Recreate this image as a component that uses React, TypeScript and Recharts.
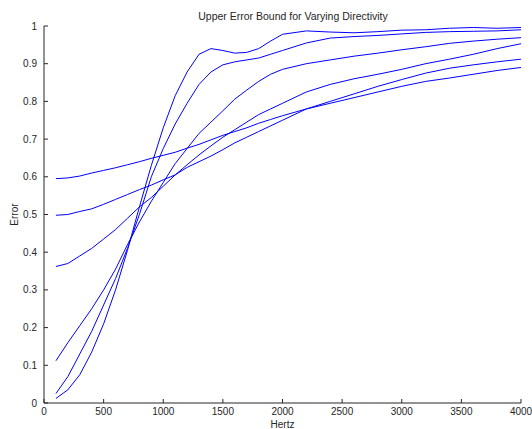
import { LineChart, Line, XAxis, YAxis } from 'recharts'

// frequency samples (Hz)
const hertz = [
    100, 200, 300, 400, 500, 600, 700, 800, 900, 1000,
    1100, 1200, 1300, 1400, 1500, 1600, 1700, 1800, 1900, 2000,
    2200, 2400, 2600, 2800, 3000, 3200, 3400, 3600, 3800, 4000,
]

// one array per directivity curve
const curveA = [
    0.595, 0.597, 0.602, 0.61, 0.617, 0.624, 0.632, 0.64, 0.649, 0.657,
    0.665, 0.676, 0.686, 0.698, 0.71, 0.72, 0.73, 0.742, 0.752, 0.762,
    0.78, 0.795, 0.81, 0.825, 0.84, 0.853, 0.862, 0.872, 0.882, 0.89,
]
const curveB = [
    0.498, 0.5, 0.508, 0.515, 0.527, 0.54, 0.553, 0.566, 0.578, 0.592,
    0.605, 0.625, 0.64, 0.655, 0.672, 0.69, 0.705, 0.72, 0.735, 0.75,
    0.78, 0.8, 0.82, 0.84, 0.858, 0.875, 0.888, 0.897, 0.905, 0.912,
]
const curveC = [
    0.362, 0.37, 0.39, 0.41, 0.435, 0.46, 0.49, 0.52, 0.545, 0.575,
    0.605, 0.632, 0.658, 0.682, 0.705, 0.725, 0.745, 0.765, 0.78, 0.795,
    0.825, 0.845, 0.86, 0.872, 0.885, 0.9, 0.912, 0.925, 0.94, 0.953,
]
const curveD = [
    0.112, 0.16, 0.205, 0.25, 0.3, 0.355, 0.42, 0.48, 0.535, 0.585,
    0.635, 0.675, 0.715, 0.745, 0.775, 0.806, 0.83, 0.853, 0.872, 0.885,
    0.9, 0.91, 0.92, 0.928, 0.937, 0.945, 0.954, 0.96, 0.965, 0.969,
]
const curveE = [
    0.025, 0.07, 0.13, 0.19, 0.26, 0.33, 0.41, 0.5, 0.6, 0.675,
    0.74, 0.795, 0.845, 0.878, 0.897, 0.905, 0.91, 0.915, 0.925, 0.935,
    0.955, 0.968, 0.972, 0.975, 0.979, 0.983, 0.985, 0.986, 0.987, 0.99,
]
const curveF = [
    0.012, 0.035, 0.075, 0.135, 0.21, 0.3, 0.405, 0.52, 0.63, 0.73,
    0.815, 0.878, 0.925, 0.94, 0.935, 0.928, 0.93, 0.94, 0.96, 0.978,
    0.987, 0.984, 0.982, 0.985, 0.989, 0.99, 0.994, 0.996, 0.994, 0.996,
]

const xTicks = [0, 500, 1000, 1500, 2000, 2500, 3000, 3500, 4000]
const yTicks = [0, 0.1, 0.2, 0.3, 0.4, 0.5, 0.6, 0.7, 0.8, 0.9, 1]

const curves = [curveA, curveB, curveC, curveD, curveE, curveF]

const data = hertz.map((hz, i) => {
    const row: any = { hz }
    curves.forEach((c, k) => {
        row['c' + k] = c[i]
    })
    return row
})

const font = "'Liberation Sans', Arial, Helvetica, sans-serif"
const ink = '#262626'

export default function App() {
    return (
        <div
            style={{
                position: 'absolute',
                left: 0,
                top: 0,
                width: 532,
                height: 429,
                background: '#fff',
                fontFamily: font,
            }}
        >
            <div
                style={{
                    position: 'absolute',
                    top: 10,
                    left: 293,
                    transform: 'translateX(-50%)',
                    whiteSpace: 'nowrap',
                    fontSize: 10.5,
                    lineHeight: '12px',
                    color: ink,
                }}
            >
                Upper Error Bound for Varying Directivity
            </div>
            <LineChart
                width={532}
                height={429}
                data={data}
                margin={{ top: 26, right: 11, left: 0, bottom: 0 }}
            >
                <XAxis
                    dataKey="hz"
                    type="number"
                    domain={[0, 4000]}
                    ticks={xTicks}
                    height={26}
                    stroke={ink}
                    tickSize={-4}
                    tickMargin={9}
                    interval={0}
                    tick={{ fontSize: 10, fill: ink, fontFamily: font }}
                    label={{ value: 'Hertz', position: 'insideBottom', offset: 1, fontSize: 10, fill: ink, fontFamily: font }}
                />
                <YAxis
                    type="number"
                    domain={[0, 1]}
                    ticks={yTicks}
                    width={44}
                    stroke={ink}
                    tickSize={-4}
                    tickMargin={11}
                    interval={0}
                    tick={{ fontSize: 10, fill: ink, fontFamily: font }}
                    label={{ value: 'Error', angle: -90, position: 'center', dx: -8, fontSize: 10, fill: ink, fontFamily: font }}
                />
                {curves.map((_, k) => (
                    <Line
                        key={k}
                        type="linear"
                        dataKey={'c' + k}
                        stroke="#0000ff"
                        strokeWidth={1}
                        dot={false}
                        activeDot={false}
                        isAnimationActive={false}
                    />
                ))}
            </LineChart>
        </div>
    )
}
